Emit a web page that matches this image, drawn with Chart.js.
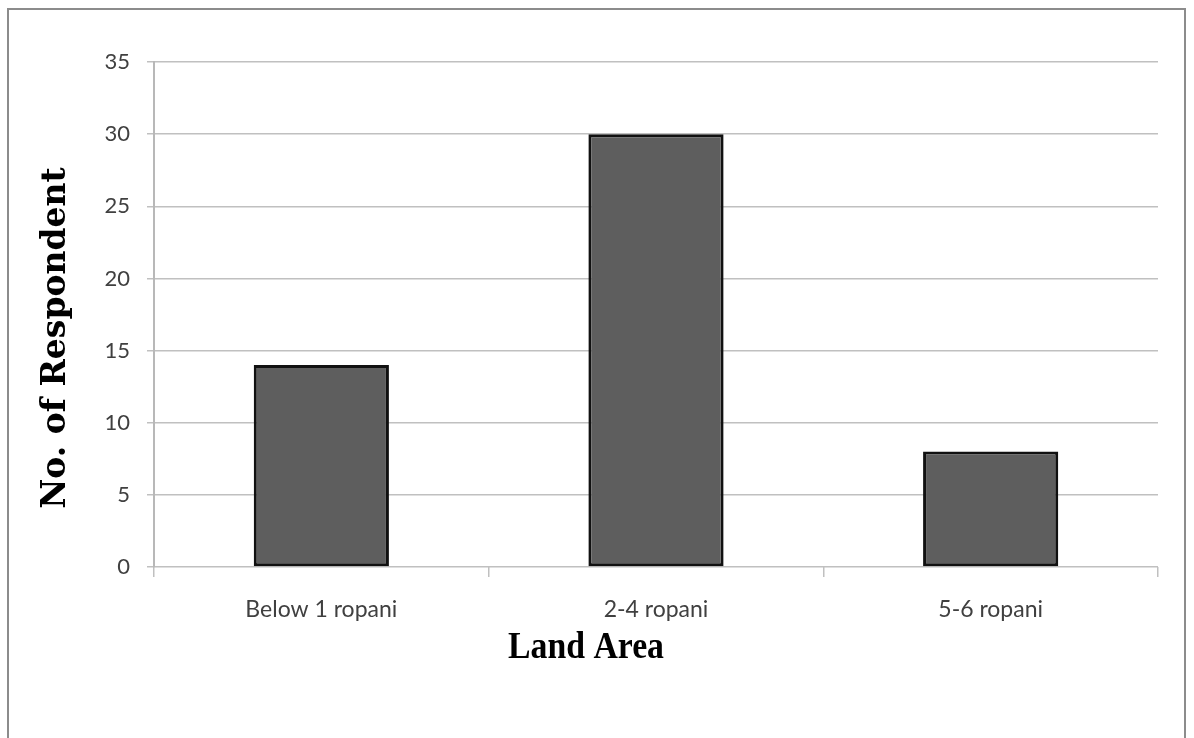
<!DOCTYPE html>
<html>
<head>
<meta charset="utf-8">
<title>Land Area</title>
<script src="https://cdn.jsdelivr.net/npm/chart.js@4/dist/chart.umd.min.js"></script>
<style>
  html, body { margin:0; padding:0; background:#fff; overflow:hidden; }
  #wrap { position:relative; width:1194px; height:738px; }
  #frame { position:absolute; left:7px; top:8px; width:1179px; height:760px; border:2px solid #8c8c8c; box-sizing:border-box; pointer-events:none; }
  canvas { position:absolute; left:0; top:0; }
</style>
</head>
<body>
<div id="wrap">
  <canvas id="chart" width="1194" height="738"></canvas>
  <div id="frame"></div>
</div>
<script>
// ===== Dados =====
const categorias = ['Below 1 ropani', '2-4 ropani', '5-6 ropani'];
const respondentes = [14, 30, 8];
const tituloY = 'No. of Respondent';
const tituloX = 'Land Area';

// títulos desenhados à mão (a fonte do eixo X é condensada)
const titulos = {
  id: 'titulos',
  afterDraw(chart){
    const ctx = chart.ctx;
    ctx.save();
    ctx.fillStyle = '#000';
    ctx.textAlign = 'center';
    ctx.textBaseline = 'middle';
    // eixo Y, girado
    ctx.font = 'bold 33px "DejaVu Serif"';
    ctx.translate(56, 338);
    ctx.rotate(-Math.PI/2);
    ctx.fillText(tituloY, 0, 0);
    ctx.restore();

    ctx.save();
    ctx.fillStyle = '#000';
    ctx.font = 'bold 38px "Liberation Serif"';
    ctx.textAlign = 'center';
    ctx.textBaseline = 'alphabetic';
    const w = ctx.measureText(tituloX).width;
    const alvo = 156;
    ctx.translate(586, 658);
    ctx.scale(alvo / w, 1);
    ctx.fillText(tituloX, 0, 0);
    ctx.restore();
  }
};

new Chart(document.getElementById('chart').getContext('2d'), {
  type: 'bar',
  data: {
    labels: categorias,
    datasets: [{
      data: respondentes,
      backgroundColor: '#5e5e5e',
      borderColor: '#111',
      borderWidth: 3,
      borderSkipped: false,
      barPercentage: 0.8,
      categoryPercentage: 0.505
    }]
  },
  options: {
    responsive: false,
    animation: false,
    layout: { padding: { top: 62, right: 36, left: 0, bottom: 0 } },
    plugins: { legend: { display: false }, tooltip: { enabled: false } },
    scales: {
      x: {
        offset: true,
        grid: { display: true, drawOnChartArea: false, offset: true, tickLength: 10, color: '#c0c0c0', lineWidth: 1.5 },
        border: { display: false },
        ticks: { color: '#404040', font: { family: 'Lato', size: 23 }, padding: 19 },
        afterFit(s){ s.height = 171; }
      },
      y: {
        min: 0, max: 35,
        ticks: { stepSize: 5, color: '#404040', font: { family: 'Lato', size: 22 }, padding: 17 },
        grid: { color: '#c0c0c0', lineWidth: 1.5, tickLength: 7 },
        border: { color: '#b8b8b8', width: 2 },
        afterFit(s){ s.width = 154; }
      }
    }
  },
  plugins: [titulos]
});
</script>
</body>
</html>
